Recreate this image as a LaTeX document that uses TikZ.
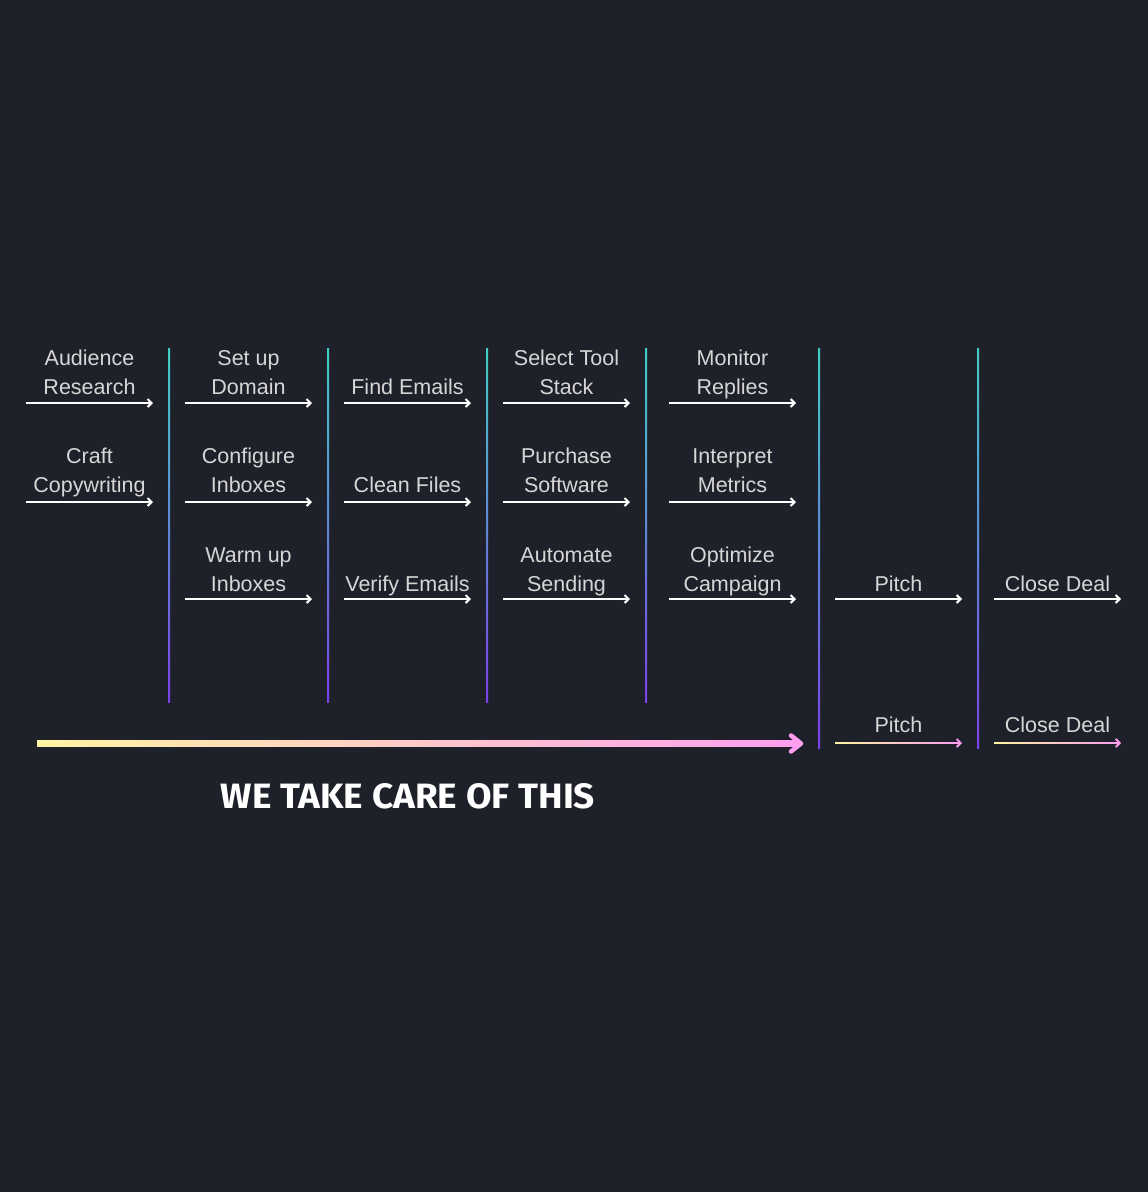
\documentclass[tikz,border=0pt]{standalone}
\usepackage{fontspec}
\setmainfont{Liberation Sans}
\newfontfamily\headfont{Fira Sans}
\usetikzlibrary{positioning, arrows.meta,
calc % for the shaded strokes
}
\definecolor{bgdark}{RGB}{30,33,41}
\definecolor{labelgray}{RGB}{214,214,214}
\definecolor{sepcyan}{RGB}{64,206,196}
\definecolor{seppurple}{RGB}{124,64,232}
\definecolor{warmyellow}{RGB}{255,244,163}
\definecolor{softpink}{RGB}{255,158,240}
\tikzset{%
  flow/.style={draw=white, line width=2pt, -{Straight Barb[length=4pt,width=8pt]}}, % white step arrows
  stepl/.style={text=labelgray, font=\fontsize{21.5}{29}\selectfont, align=center,
    inner sep=0pt, text depth=0pt, above=#1},
  stepl/.default=8pt,
  sep/.style={top color=sepcyan, bottom color=seppurple, draw=none},
  ramp/.style={left color=warmyellow, right color=softpink, draw=none}
}

\begin{document}
\begin{tikzpicture}[x=1pt, y=-1pt]
    \fill[bgdark] (0,0) rectangle (1148,1192);
    \useasboundingbox (0,0) rectangle (1148,1192);

    % separators
    \foreach \sx/\sy in {169/702, 328/702, 487/702, 646/702, 819/748, 978/748}
      \shade[sep] (\sx-1,348) rectangle (\sx+1,\sy);

    % arrow ends, one pair per column and row
    \foreach \c/\xs in {1/26, 2/185, 3/344, 4/503, 5/669, 6/835, 7/994} {
      \foreach \r/\ry in {1/403, 2/502, 3/599, 4/743} {
        \coordinate (s\c\r) at (\xs,\ry);
        \coordinate (e\c\r) at (\xs+127,\ry);
      }
    }

    \draw[flow] (s11) -- (e11) node[midway, stepl] (audience) {Audience\\Research};
    \draw[flow] (s12) -- (e12) node[midway, stepl=9pt] (craft) {Craft\\Copywriting};

    \draw[flow] (s21) -- (e21) node[midway, stepl] (domain) {Set up\\Domain};
    \draw[flow] (s22) -- (e22) node[midway, stepl=9pt] (configure) {Configure\\Inboxes};
    \draw[flow] (s23) -- (e23) node[midway, stepl=7pt] (warmup) {Warm up\\Inboxes};

    \draw[flow] (s31) -- (e31) node[midway, stepl] (find) {Find Emails};
    \draw[flow] (s32) -- (e32) node[midway, stepl=9pt] (clean) {Clean Files};
    \draw[flow] (s33) -- (e33) node[midway, stepl=7pt] (verify) {Verify Emails};

    \draw[flow] (s41) -- (e41) node[midway, stepl] (tools) {Select Tool\\Stack};
    \draw[flow] (s42) -- (e42) node[midway, stepl=9pt] (purchase) {Purchase\\Software};
    \draw[flow] (s43) -- (e43) node[midway, stepl=7pt] (automate) {Automate\\Sending};

    \draw[flow] (s51) -- (e51) node[midway, stepl] (monitor) {Monitor\\Replies};
    \draw[flow] (s52) -- (e52) node[midway, stepl=9pt] (interpret) {Interpret\\Metrics};
    \draw[flow] (s53) -- (e53) node[midway, stepl=7pt] (optimize) {Optimize\\Campaign};

    \draw[flow] (s63) -- (e63) node[midway, stepl=7pt] (pitch) {Pitch};
    \draw[flow] (s73) -- (e73) node[midway, stepl=7pt] (close) {Close Deal};

    % our part: shaded arrows
    \shade[ramp] ($(s64)+(0,-0.9)$) rectangle ($(e64)+(-2,0.9)$);
    \draw[softpink, line width=1.8pt, -{Straight Barb[length=4pt,width=8pt]}] ($(e64)+(-3,0)$) -- (e64);
    \path (s64) -- (e64) node[midway, stepl=10pt] (ourpitch) {Pitch};

    \shade[ramp] ($(s74)+(0,-0.9)$) rectangle ($(e74)+(-2,0.9)$);
    \draw[softpink, line width=1.8pt, -{Straight Barb[length=4pt,width=8pt]}] ($(e74)+(-3,0)$) -- (e74);
    \path (s74) -- (e74) node[midway, stepl=10pt] (ourclose) {Close Deal};

    \coordinate (bigs) at (37,743.5);
    \coordinate (bige) at (801,743.5);
    \shade[ramp] ($(bigs)+(0,-2.6)$) rectangle ($(bige)+(-3,2.6)$);
    \draw[softpink, line width=4.5pt, line cap=round, line join=round]
      ($(bige)+(-10,-8)$) -- (bige) -- ($(bige)+(-10,8)$);

    \node[text=white, inner sep=0pt] (care) at (408,796)
      {\resizebox{374pt}{25pt}{\headfont\bfseries WE TAKE CARE OF THIS}};
  \end{tikzpicture}
\end{document}
